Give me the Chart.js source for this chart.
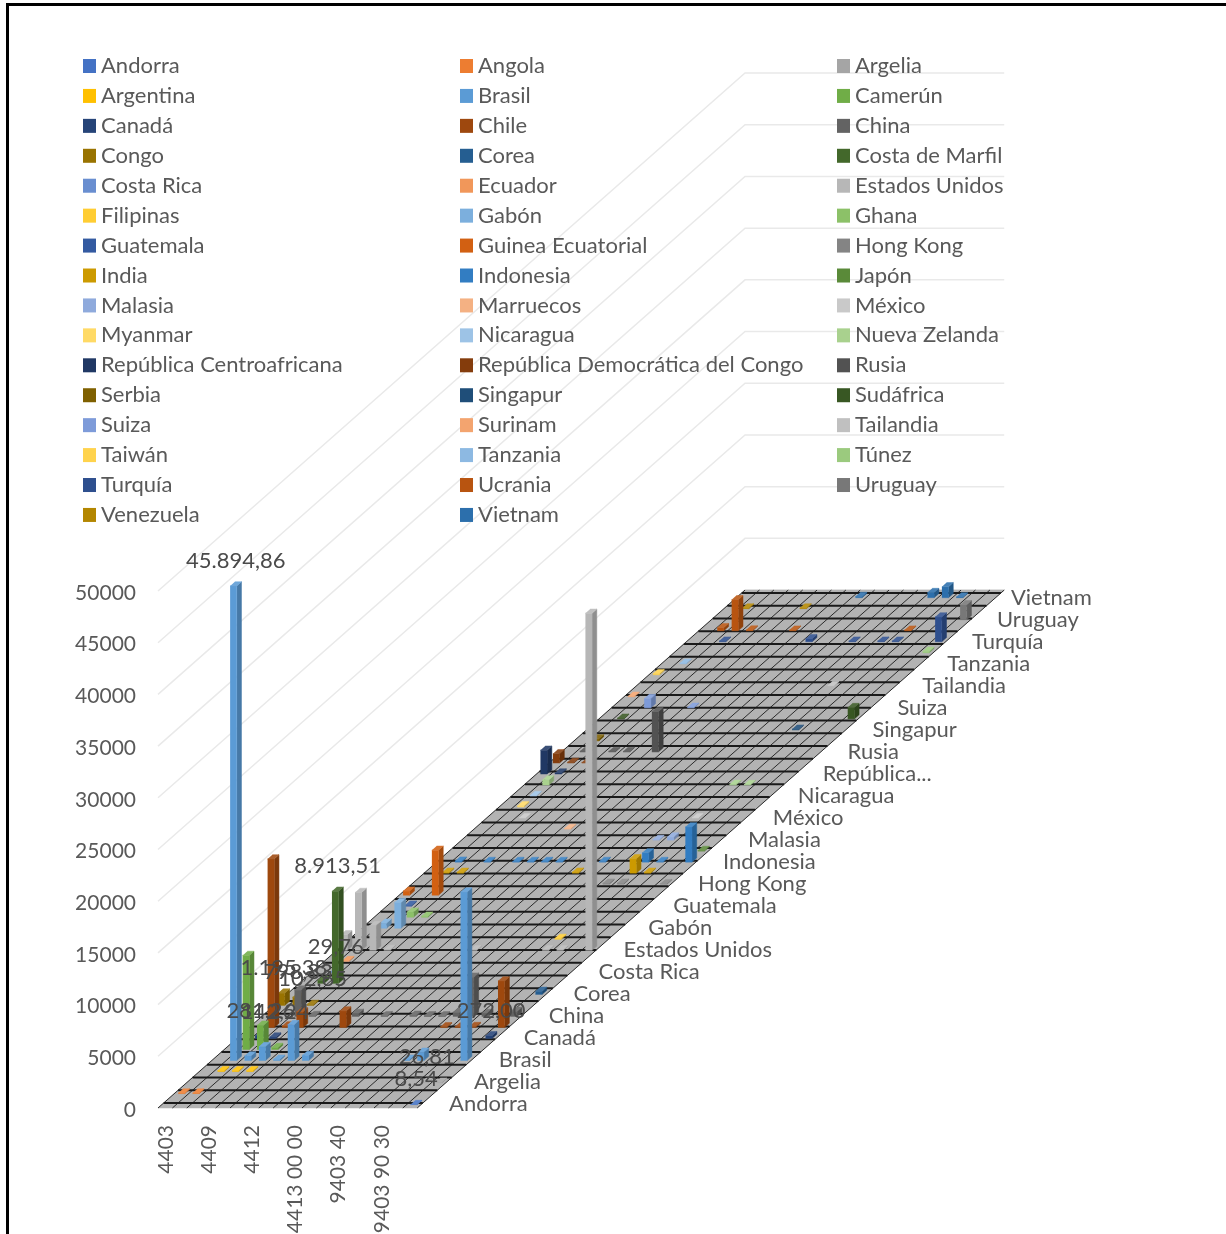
<!DOCTYPE html>
<html>
<head>
<meta charset="utf-8">
<script src="https://cdn.jsdelivr.net/npm/chart.js@4"></script>
<style>
    body { margin: 0; background: #fff; }
    #wrap { position: relative; width: 1226px; height: 1234px; overflow: hidden; }
    #frame { position: absolute; left: 6px; top: 3px; width: 1218px; height: 1231px; border-style: solid; border-width: 3px 1px 0 3px; border-color: #000 #666 #000 #000; }
    canvas { position: absolute; left: 0; top: 0; }
</style>
</head>
<body>
<div id="wrap">
    <div id="frame"></div>
    <canvas id="chart" width="1226" height="1234"></canvas>
</div>
<script>
const countries = ['Andorra', 'Angola', 'Argelia', 'Argentina', 'Brasil', 'Camerún', 'Canadá', 'Chile', 'China', 'Congo', 'Corea', 'Costa de Marfil', 'Costa Rica', 'Ecuador', 'Estados Unidos', 'Filipinas', 'Gabón', 'Ghana', 'Guatemala', 'Guinea Ecuatorial', 'Hong Kong', 'India', 'Indonesia', 'Japón', 'Malasia', 'Marruecos', 'México', 'Myanmar', 'Nicaragua', 'Nueva Zelanda', 'República Centroafricana', 'República Democrática del Congo', 'Rusia', 'Serbia', 'Singapur', 'Sudáfrica', 'Suiza', 'Surinam', 'Tailandia', 'Taiwán', 'Tanzania', 'Túnez', 'Turquía', 'Ucrania', 'Uruguay', 'Venezuela', 'Vietnam'];
const countryColors = ['#4472C4', '#ED7D31', '#A5A5A5', '#FFC000', '#5B9BD5', '#70AD47', '#264478', '#9E480E', '#636363', '#997300', '#255E91', '#43682B', '#698ED0', '#F1975A', '#B7B7B7', '#FFCD33', '#7CAFDD', '#8CC168', '#335AA1', '#D26012', '#848484', '#CC9A00', '#327DC2', '#5A8A39', '#8FAADC', '#F4B183', '#C9C9C9', '#FFDA66', '#9DC3E6', '#A9D18E', '#203864', '#843C0C', '#525252', '#7F6000', '#1F4E79', '#385723', '#7E9BD9', '#F3A46F', '#C0C0C0', '#FFD34D', '#8DB9E2', '#9BCA7E', '#2E4F8E', '#B85410', '#787878', '#B38600', '#2C6FAC'];

// only every third product code is printed on the chart
const categoryCount = 18;
const categoryTicks = ['4403', '4409', '4412', '4413 00 00', '9403 40', '9403 90 30'];
const valueTicks = [0, 5000, 10000, 15000, 20000, 25000, 30000, 35000, 40000, 45000, 50000];
const depthTicks = ['Andorra', 'Argelia', 'Brasil', 'Canadá', 'China', 'Corea', 'Costa Rica', 'Estados Unidos', 'Gabón', 'Guatemala', 'Hong Kong', 'Indonesia', 'Malasia', 'México', 'Nicaragua', 'República...', 'Rusia', 'Singapur', 'Suiza', 'Tailandia', 'Tanzania', 'Turquía', 'Uruguay', 'Vietnam'];

// one entry per bar: country row (1 = Andorra), product column, value
const markCountry = [1, 2, 2, 3, 3, 4, 4, 4, 5, 5, 5, 5, 5, 5, 5, 5, 5, 6, 6, 6, 7, 7, 7, 8, 8, 8, 8, 8, 8, 8, 8, 9, 9, 9, 9, 9, 9, 9, 9, 9, 9, 9, 10, 10, 10, 11, 12, 12, 13, 14, 15, 15, 15, 15, 15, 15, 15, 15, 16, 17, 17, 18, 18, 19, 20, 20, 21, 21, 21, 22, 22, 22, 22, 22, 23, 23, 23, 23, 23, 23, 23, 23, 23, 23, 24, 25, 25, 26, 27, 27, 28, 29, 30, 30, 30, 31, 31, 32, 32, 32, 33, 33, 33, 33, 34, 35, 36, 36, 37, 37, 38, 39, 40, 41, 42, 43, 43, 43, 43, 43, 43, 44, 44, 44, 44, 44, 45, 46, 46, 47, 47, 47, 47];
const markCategory = [17, 0, 1, 16, 17, 1, 2, 3, 1, 2, 3, 4, 5, 6, 13, 14, 17, 1, 2, 3, 1, 2, 17, 1, 2, 3, 6, 13, 14, 15, 17, 2, 3, 6, 8, 10, 11, 12, 13, 14, 15, 17, 0, 1, 2, 17, 1, 2, 1, 1, 0, 1, 2, 3, 9, 14, 15, 17, 14, 1, 2, 2, 3, 1, 0, 2, 13, 14, 17, 1, 2, 10, 14, 15, 1, 3, 5, 6, 7, 8, 11, 14, 15, 17, 17, 13, 14, 6, 2, 14, 1, 1, 1, 14, 15, 0, 1, 0, 1, 2, 1, 3, 4, 6, 1, 14, 1, 17, 2, 5, 0, 13, 0, 1, 17, 2, 8, 11, 13, 14, 17, 1, 2, 3, 6, 14, 17, 1, 5, 8, 13, 14, 15];
const markValue = [8.54, 60, 60, 26.81, 40, 90, 90, 90, 45894.86, 450, 1350, 120, 3480, 500, 120, 800, 16300, 9100, 2350, 200, 281.26, 142.24, 272, 16300, 150, 1500, 1600, 70, 60, 90, 4500, 2550, 100, 300, 80, 120, 70, 60, 400, 3800, 300, 500, 1195.38, 798.83, 102.65, 300, 300, 8913.51, 29.76, 80, 1500, 5600, 2400, 80, 60, 60, 60, 32600, 90, 500, 2500, 500, 100, 100, 400, 4350, 100, 100, 60, 90, 90, 100, 1400, 90, 100, 70, 70, 70, 70, 70, 70, 900, 70, 3400, 70, 60, 300, 70, 40, 40, 120, 50, 500, 70, 50, 2300, 100, 900, 60, 50, 60, 60, 50, 3900, 200, 70, 70, 1100, 900, 60, 60, 30, 120, 60, 150, 60, 300, 60, 60, 60, 2400, 300, 3000, 70, 60, 60, 1450, 70, 70, 120, 500, 1050, 70];
const labelledValues = [8.54, 26.81, 45894.86, 281.26, 142.24, 272, 1195.38, 798.83, 102.65, 8913.51, 29.76];

const TEXT = '#595959';
const FONT = 'Lato';
const pxPerValue = 517 / 50000;   // value axis height on screen
const pxPerCategory = 14.4;
const shearX = 12.49 / pxPerCategory;       // a row back moves this far right
const shearY = 11.02 / pxPerValue;          // and this far up
const axisLeft = 138, floorLeft = 158, floorBottom = 1108;

// oblique projection of (column, row depth, value) on the two linear scales
function project(cat, depth, value) {
    return { x: cat + depth * shearX, y: value + depth * shearY };
}

function shade(hex, amount) {
    const n = parseInt(hex.slice(1), 16);
    const mix = c => Math.round(amount < 0 ? c * (1 + amount) : c + (255 - c) * amount);
    return `rgb(${mix(n >> 16)},${mix((n >> 8) & 255)},${mix(n & 255)})`;
}

function polygon(points, color) {
    return { data: points, showLine: true, fill: 'shape', backgroundColor: color, borderColor: color, borderWidth: 0.5, pointRadius: 0, clip: false };
}

function stroke(points, color, width) {
    return { data: points, showLine: true, fill: false, borderColor: color, borderWidth: width, pointRadius: 0, clip: false };
}

// painter's order: first pushed ends up at the bottom
const layers = [];

valueTicks.forEach(v => {
    layers.push(stroke([project(0, 0, v), project(0, countries.length, v), project(categoryCount, countries.length, v)], '#e9e9e9', 1.5));
});

layers.push(polygon([project(0, 0, 0), project(categoryCount, 0, 0), project(categoryCount, countries.length, 0), project(0, countries.length, 0)], '#b3b3b3'));

for (let c = 0; c <= categoryCount; c++) {
    layers.push(stroke([project(c, 0, 0), project(c, countries.length, 0)], '#2b2b2b', 1));
}
// the dark floor rules do not coincide with the rows
const ruleStep = 12.75 / 11.02;
for (let d = 5 / 11.02; d < countries.length; d += ruleStep) {
    layers.push(stroke([project(0, d, 0), project(categoryCount, d, 0)], '#1a1a1a', 1.8));
}

const barWidth = 0.46, barDepth = 0.38;
const order = markValue.map((_, i) => i).sort((a, b) => markCountry[b] - markCountry[a] || markCategory[a] - markCategory[b]);
order.forEach(i => {
    const color = countryColors[markCountry[i] - 1];
    const v = markValue[i];
    const left = markCategory[i] + 0.5 - barWidth / 2, right = left + barWidth;
    const near = markCountry[i] - 0.5 - barDepth / 2, far = near + barDepth;
    layers.push(polygon([project(right, near, 0), project(right, far, 0), project(right, far, v), project(right, near, v)], shade(color, -0.22)));
    layers.push(polygon([project(left, near, 0), project(right, near, 0), project(right, near, v), project(left, near, v)], color));
    layers.push(polygon([project(left, near, v), project(right, near, v), project(right, far, v), project(left, far, v)], shade(color, 0.12)));
});

function formatValue(v) {
    const [whole, dec] = v.toFixed(2).split('.');
    return whole.replace(/\B(?=(\d{3})+$)/g, '.') + ',' + dec;
}

const textPlugin = {
    id: 'chartText',
    afterDraw(chart) {
        const { ctx, scales: { x, y } } = chart;
        const px = p => x.getPixelForValue(p.x);
        const py = p => y.getPixelForValue(p.y);
        ctx.save();
        ctx.textBaseline = 'middle';

        // series names along the right floor edge, the last one sits closer
        ctx.font = `22px ${FONT}`;
        ctx.fillStyle = TEXT;
        ctx.textAlign = 'left';
        depthTicks.forEach(name => {
            const row = countries.indexOf(name === 'República...' ? 'República Centroafricana' : name) + 1;
            const gap = name === 'Vietnam' ? 0.9 : 1.78 - row * 0.0025;
            const p = project(categoryCount + gap, row - 0.5, 0);
            ctx.fillText(name, px(p), py(p) + 1.5 + row * 0.02);
        });

        // value labels sit above their bar
        ctx.fillStyle = '#4a4a4a';
        ctx.textAlign = 'center';
        markValue.forEach((v, i) => {
            if (!labelledValues.includes(v)) return;
            const p = project(markCategory[i] + 0.5, markCountry[i] - 0.5, v);
            ctx.fillText(formatValue(v), px(p), py(p) - 23);
        });

        // legend, three columns
        ctx.textAlign = 'left';
        countries.forEach((name, i) => {
            const col = i % 3, row = Math.floor(i / 3);
            const left = 83 + col * 377, top = 66 + row * 29.93;
            ctx.fillStyle = countryColors[i];
            ctx.fillRect(left, top - 7, 13, 14);
            ctx.fillStyle = TEXT;
            ctx.fillText(name, left + 18, top);
        });
        ctx.restore();
    }
};

new Chart(document.getElementById('chart'), {
    type: 'scatter',
    data: { datasets: layers.reverse() },
    plugins: [textPlugin],
    options: {
        responsive: false,
        animation: false,
        events: [],
        layout: { padding: 0 },
        plugins: { legend: { display: false }, tooltip: { enabled: false } },
        scales: {
            x: {
                type: 'linear',
                min: (axisLeft - floorLeft) / pxPerCategory,
                max: (1226 - floorLeft) / pxPerCategory,
                grid: { display: false, drawTicks: false },
                border: { display: false },
                afterFit(scale) { scale.height = 1234 - floorBottom; scale.paddingLeft = 0; scale.paddingRight = 0; },
                afterBuildTicks(scale) { scale.ticks = categoryTicks.map((_, i) => ({ value: i * 3 + 0.55 })); },
                ticks: {
                    autoSkip: false, minRotation: 90, maxRotation: 90, padding: 17,
                    color: TEXT, font: { family: FONT, size: 21 },
                    callback: (value, index) => categoryTicks[index]
                }
            },
            y: {
                type: 'linear',
                min: 0,
                max: floorBottom / pxPerValue,
                grid: { display: false, drawTicks: false },
                border: { display: false },
                afterFit(scale) { scale.width = axisLeft; scale.paddingTop = 0; scale.paddingBottom = 0; },
                afterBuildTicks(scale) { scale.ticks = valueTicks.map(value => ({ value })); },
                ticks: { padding: 2, labelOffset: 2, color: TEXT, font: { family: FONT, size: 21 }, callback: v => String(v) }
            }
        }
    }
});
</script>
</body>
</html>
